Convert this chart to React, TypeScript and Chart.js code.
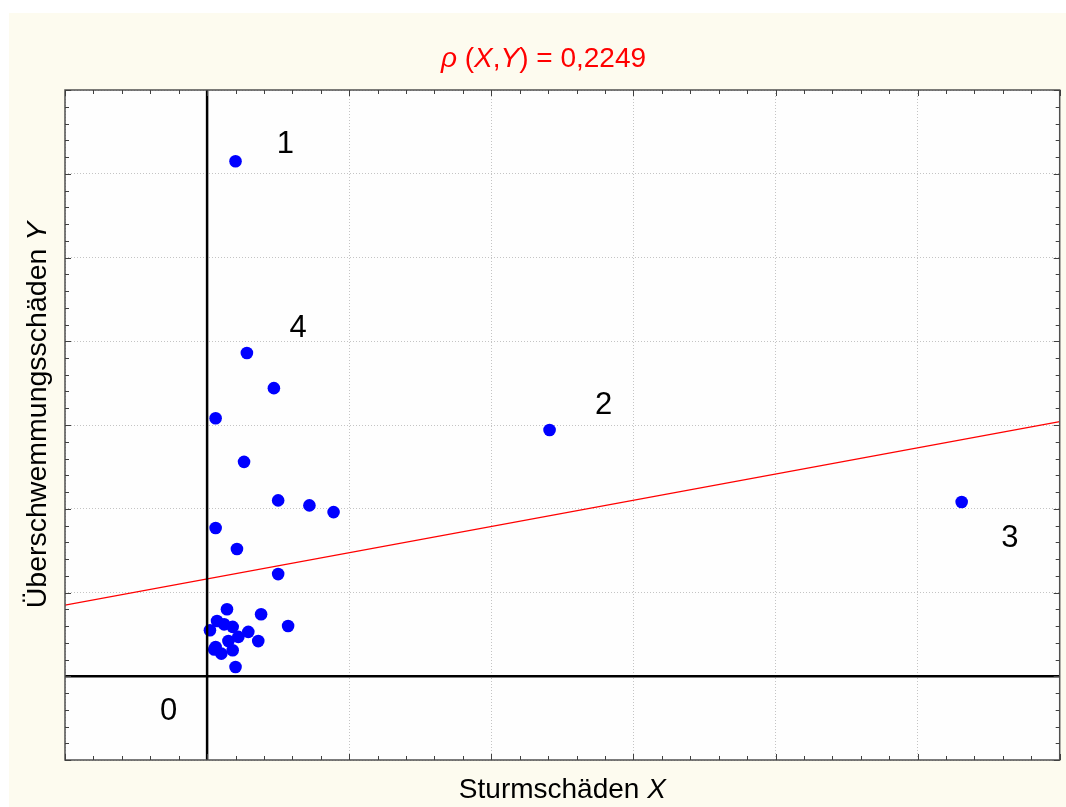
import React, { useEffect, useRef } from 'react';
import { Chart, registerables } from 'chart.js';

Chart.register(...registerables);

// ---- data ----
const stormX = [0.20, 0.28, 0.47, 0.06, 0.26, 0.50, 0.72, 0.89, 0.06, 0.21, 0.50, 2.41, 5.31,
  0.14, 0.07, 0.18, 0.02, 0.38, 0.57, 0.29, 0.36, 0.05, 0.10, 0.15, 0.18, 0.22, 0.20, 0.12, 0.06];
const floodY = [6.15, 3.86, 3.44, 3.08, 2.56, 2.10, 2.04, 1.96, 1.77, 1.52, 1.22, 2.94, 2.08,
  0.80, 0.66, 0.59, 0.55, 0.74, 0.60, 0.53, 0.42, 0.32, 0.27, 0.42, 0.31, 0.47, 0.11, 0.62, 0.35];

const regressionX = [-1, 6];
const regressionY = [0.85, 3.04];

const pointLabels = ['0', '1', '2', '3', '4'];
const pointLabelX = [-0.27, 0.55, 2.79, 5.65, 0.64];
const pointLabelY = [-0.41, 6.36, 3.24, 1.66, 4.17];

const xRange = [-1, 6];
const yRange = [-1, 7];

const titleParts = [
  { t: 'ρ', i: true }, { t: ' (', i: false }, { t: 'X', i: true }, { t: ',', i: false },
  { t: 'Y', i: true }, { t: ') = 0,2249', i: false },
];
const xTitleParts = [{ t: 'Sturmschäden ', i: false }, { t: 'X', i: true }];
const yTitleParts = [{ t: 'Überschwemmungsschäden ', i: false }, { t: 'Y', i: true }];

const FONT = '"Liberation Sans", Arial, sans-serif';
const font = (size: number, italic: boolean) => `${italic ? 'italic ' : ''}${size}px ${FONT}`;

function drawParts(ctx: CanvasRenderingContext2D, parts: { t: string; i: boolean }[], cx: number, baseY: number, size: number, color: string) {
  let total = 0;
  const widths = parts.map((p) => {
    ctx.font = font(size, p.i);
    const w = ctx.measureText(p.t).width;
    total += w;
    return w;
  });
  let x = cx - total / 2;
  ctx.fillStyle = color;
  ctx.textAlign = 'left';
  ctx.textBaseline = 'alphabetic';
  parts.forEach((p, k) => {
    ctx.font = font(size, p.i);
    ctx.fillText(p.t, x, baseY);
    x += widths[k];
  });
}

const decorPlugin = {
  id: 'decor',
  beforeDraw(chart: any) {
    const { ctx, chartArea: a } = chart;
    ctx.save();
    ctx.fillStyle = '#fefefe';
    ctx.fillRect(a.left, a.top, a.right - a.left, a.bottom - a.top);
    ctx.restore();
  },
  afterDraw(chart: any) {
    const { ctx, chartArea: a, scales } = chart;
    const xs = scales.x;
    const ys = scales.y;
    ctx.save();
    // frame
    ctx.strokeStyle = '#505050';
    ctx.lineWidth = 1.5;
    ctx.strokeRect(a.left, a.top, a.right - a.left, a.bottom - a.top);
    // ticks (major every 1, minor every 0.2)
    ctx.strokeStyle = '#404040';
    ctx.lineWidth = 1;
    ctx.beginPath();
    for (let k = 0; k <= (xRange[1] - xRange[0]) * 5; k++) {
      const v = xRange[0] + k / 5;
      const len = k % 5 === 0 ? 6 : 4;
      const px = Math.round(xs.getPixelForValue(v)) + 0.5;
      ctx.moveTo(px, a.bottom);
      ctx.lineTo(px, a.bottom - len);
      ctx.moveTo(px, a.top);
      ctx.lineTo(px, a.top + len);
    }
    for (let k = 0; k <= (yRange[1] - yRange[0]) * 5; k++) {
      const v = yRange[0] + k / 5;
      const len = k % 5 === 0 ? 6 : 4;
      const py = Math.round(ys.getPixelForValue(v)) + 0.5;
      ctx.moveTo(a.left, py);
      ctx.lineTo(a.left + len, py);
      ctx.moveTo(a.right, py);
      ctx.lineTo(a.right - len, py);
    }
    ctx.stroke();
    // point labels
    ctx.fillStyle = '#000';
    ctx.font = font(31, false);
    ctx.textAlign = 'center';
    ctx.textBaseline = 'middle';
    pointLabels.forEach((lab, k) => {
      ctx.fillText(lab, xs.getPixelForValue(pointLabelX[k]), ys.getPixelForValue(pointLabelY[k]) + 1);
    });
    // titles
    drawParts(ctx, titleParts, chart.width / 2 + 6, 54, 28, '#ff0000');
    drawParts(ctx, xTitleParts, (a.left + a.right) / 2, 785, 28, '#000');
    ctx.translate(37, (a.top + a.bottom) / 2 - 10);
    ctx.rotate(-Math.PI / 2);
    drawParts(ctx, yTitleParts, 0, 0, 28.5, '#000');
    ctx.restore();
  },
};

export default function App() {
  const ref = useRef<HTMLCanvasElement | null>(null);

  useEffect(() => {
    if (!ref.current) return;
    const points = stormX.map((x, k) => ({ x, y: floodY[k] }));
    const regression = regressionX.map((x, k) => ({ x, y: regressionY[k] }));
    const chart = new Chart(ref.current, {
      type: 'scatter',
      data: {
        datasets: [
          {
            data: [{ x: 0, y: yRange[0] }, { x: 0, y: yRange[1] }],
            showLine: true, borderColor: '#000', borderWidth: 2.5, pointRadius: 0, order: 0,
          },
          {
            data: [{ x: xRange[0], y: 0 }, { x: xRange[1], y: 0 }],
            showLine: true, borderColor: '#000', borderWidth: 2.5, pointRadius: 0, order: 0,
          },
          {
            data: points,
            backgroundColor: '#0000ff', borderWidth: 0, pointRadius: 6.3, order: 1,
          },
          {
            data: regression,
            showLine: true, borderColor: '#ff0000', borderWidth: 1.2, pointRadius: 0, order: 2,
          },
        ] as any,
      },
      options: {
        animation: false,
        responsive: false,
        events: [],
        layout: { padding: { left: 56, top: 77, right: 3, bottom: 47 } },
        plugins: { legend: { display: false }, tooltip: { enabled: false }, title: { display: false } },
        scales: {
          x: {
            type: 'linear', min: xRange[0], max: xRange[1],
            ticks: { display: false, stepSize: 1 },
            grid: { color: '#c4c4c4', lineWidth: 1, drawTicks: false },
            border: { display: false, dash: [1, 2] },
          },
          y: {
            type: 'linear', min: yRange[0], max: yRange[1],
            ticks: { display: false, stepSize: 1 },
            grid: { color: '#c4c4c4', lineWidth: 1, drawTicks: false },
            border: { display: false, dash: [1, 2] },
          },
        },
      } as any,
      plugins: [decorPlugin],
    });
    return () => chart.destroy();
  }, []);

  return (
    <div style={{ position: 'absolute', left: 9, top: 13, width: 1057, height: 794, background: '#fdfbef' }}>
      <canvas ref={ref} width={1057} height={794} style={{ display: 'block', width: 1057, height: 794 }} />
    </div>
  );
}
